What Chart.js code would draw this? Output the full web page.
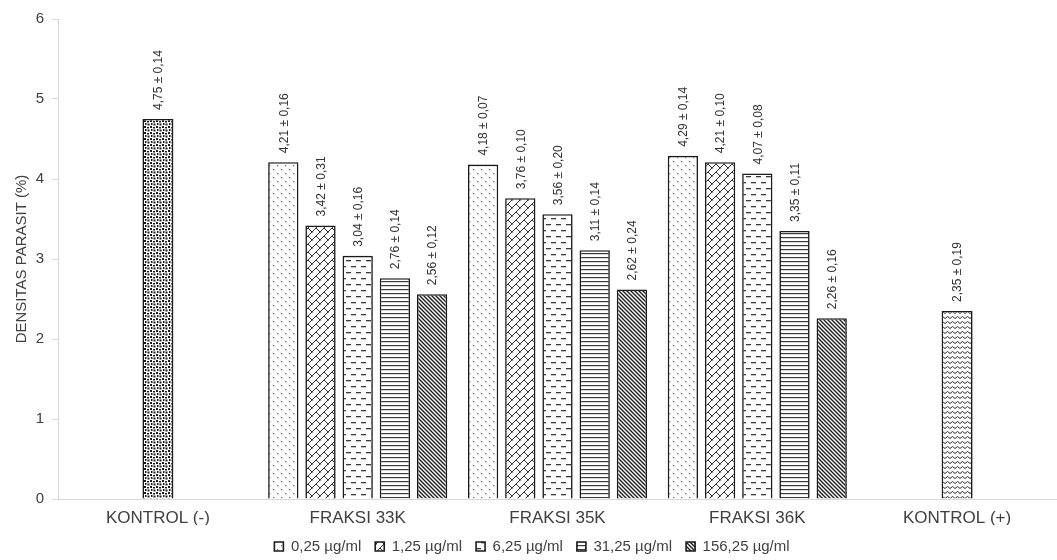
<!DOCTYPE html>
<html>
<head>
<meta charset="utf-8">
<script src="https://cdn.jsdelivr.net/npm/chart.js@4.4.1/dist/chart.umd.min.js"></script>
<style>
  html, body { margin: 0; padding: 0; background: #ffffff; }
  #wrap { width: 1057px; height: 560px; }
</style>
</head>
<body>
<div id="wrap"><canvas id="chart" width="1057" height="560"></canvas></div>
<script>
// Groups along the x axis
const categories = ['KONTROL (-)', 'FRAKSI 33K', 'FRAKSI 35K', 'FRAKSI 36K', 'KONTROL (+)'];

// Concentration series (mean parasite density, %)
const seriesLabels = ['0,25 µg/ml', '1,25 µg/ml', '6,25 µg/ml', '31,25 µg/ml', '156,25 µg/ml'];
const dens025 = [null, 4.21, 4.18, 4.29, null];
const dens125 = [null, 3.42, 3.76, 4.21, null];
const dens625 = [null, 3.04, 3.56, 4.07, null];
const dens3125 = [null, 2.76, 3.11, 3.35, null];
const dens15625 = [null, 2.56, 2.62, 2.26, null];

// Standard deviations for each series
const sd025 = [null, 0.16, 0.07, 0.14, null];
const sd125 = [null, 0.31, 0.10, 0.10, null];
const sd625 = [null, 0.16, 0.20, 0.08, null];
const sd3125 = [null, 0.14, 0.14, 0.11, null];
const sd15625 = [null, 0.12, 0.24, 0.16, null];

// Negative and positive controls
const controlDens = [4.75, null, null, null, 2.35];
const controlSd = [0.14, null, null, null, 0.19];

// Y axis
const yTicks = [0, 1, 2, 3, 4, 5, 6];
const yTitle = 'DENSITAS PARASIT (%)';

const FONT = '"Liberation Sans", Arial, sans-serif';
const TEXT = '#404040';
const AXIS = '#d9d9d9';

// Fill patterns for the bars
function makePattern(w, h, paint) {
  const c = document.createElement('canvas');
  c.width = w; c.height = h;
  const g = c.getContext('2d');
  g.fillStyle = '#ffffff';
  g.fillRect(0, 0, w, h);
  paint(g);
  return g.createPattern(c, 'repeat');
}

const patDots = makePattern(8, 8, g => {
  g.fillStyle = '#6f6f6f';
  g.fillRect(1, 1, 1.3, 1.3);
  g.fillRect(5, 5, 1.3, 1.3);
});

const patWeave = makePattern(8, 8, g => {
  g.strokeStyle = '#2b2b2b';
  g.lineWidth = 1;
  g.beginPath();
  g.moveTo(-1, 9); g.lineTo(9, -1);
  g.moveTo(-1, 1); g.lineTo(1, -1);
  g.moveTo(7, 9); g.lineTo(9, 7);
  g.moveTo(4, 4); g.lineTo(8.5, 8.5);
  g.moveTo(-0.5, -0.5); g.lineTo(0.5, 0.5);
  g.stroke();
});

const patDash = makePattern(10, 12, g => {
  g.fillStyle = '#3a3a3a';
  g.fillRect(1, 2, 5, 1.3);
  g.fillRect(6, 8, 5, 1.3);
  g.fillRect(-4, 8, 5, 1.3);
});

const patHLines = makePattern(4, 4, g => {
  g.fillStyle = '#3a3a3a';
  g.fillRect(0, 1, 4, 1.2);
});

const patDiag = makePattern(4, 4, g => {
  g.strokeStyle = '#1e1e1e';
  g.lineWidth = 1.4;
  g.beginPath();
  g.moveTo(-1, -1); g.lineTo(5, 5);
  g.moveTo(3, -1); g.lineTo(5, 1);
  g.moveTo(-1, 3); g.lineTo(1, 5);
  g.stroke();
});

const patSpeckle = makePattern(6, 6, g => {
  g.fillStyle = '#1c1c1c';
  g.fillRect(0, 0, 2, 2);
  g.fillRect(3, 1, 2, 1.5);
  g.fillRect(1, 3, 1.5, 2);
  g.fillRect(3.5, 3.5, 2, 2);
});

const patWave = makePattern(5, 5, g => {
  g.strokeStyle = '#2e2e2e';
  g.lineWidth = 1;
  g.beginPath();
  g.moveTo(0, 3.5); g.lineTo(2.5, 1.5); g.lineTo(5, 3.5);
  g.stroke();
});

const seriesData = [dens025, dens125, dens625, dens3125, dens15625];
const seriesSd = [sd025, sd125, sd625, sd3125, sd15625];
const seriesFill = [patDots, patWeave, patDash, patHLines, patDiag];

const datasets = seriesLabels.map((label, k) => ({
  label: label,
  data: seriesData[k],
  sd: seriesSd[k],
  backgroundColor: seriesFill[k],
  borderColor: '#1a1a1a',
  borderWidth: 1.6,
  categoryPercentage: 0.931,
  barPercentage: 0.814
}));

datasets.push({
  label: 'KONTROL',
  data: controlDens,
  sd: controlSd,
  backgroundColor: [patSpeckle, null, null, null, patWave],
  borderColor: '#1a1a1a',
  borderWidth: 1.6,
  grouped: false,
  maxBarThickness: 31
});

function fmt(v) {
  return v.toFixed(2).replace('.', ',');
}

// Rotated "mean ± sd" label above every bar
const valueLabels = {
  id: 'valueLabels',
  afterDatasetsDraw(chart) {
    const ctx = chart.ctx;
    ctx.save();
    ctx.font = '12px ' + FONT;
    ctx.fillStyle = '#333333';
    ctx.textAlign = 'left';
    ctx.textBaseline = 'middle';
    chart.data.datasets.forEach((ds, di) => {
      const meta = chart.getDatasetMeta(di);
      meta.data.forEach((bar, i) => {
        const v = ds.data[i];
        if (v === null || v === undefined) return;
        const txt = fmt(v) + ' ± ' + fmt(ds.sd[i]);
        ctx.save();
        ctx.translate(bar.x + 1, bar.y - 9);
        ctx.rotate(-Math.PI / 2);
        ctx.fillText(txt, 0, 0);
        ctx.restore();
      });
    });
    ctx.restore();
  }
};

new Chart(document.getElementById('chart'), {
  type: 'bar',
  data: { labels: categories, datasets: datasets },
  options: {
    responsive: false,
    devicePixelRatio: 1,
    animation: false,
    layout: { padding: { top: 19, right: -7, bottom: 0, left: 0 } },
    plugins: {
      tooltip: { enabled: false },
      legend: {
        position: 'bottom',
        maxHeight: 35,
        labels: {
          boxWidth: 9,
          boxHeight: 9,
          padding: 14,
          color: TEXT,
          font: { family: FONT, size: 15 },
          filter: item => item.datasetIndex < seriesLabels.length
        }
      }
    },
    scales: {
      x: {
        grid: { display: false, drawTicks: false },
        border: { display: true, color: AXIS, width: 1 },
        ticks: { color: TEXT, font: { family: FONT, size: 17 }, padding: 9 },
        afterFit: s => { s.height = 26; }
      },
      y: {
        min: 0,
        max: 6,
        afterBuildTicks: s => { s.ticks = yTicks.map(v => ({ value: v })); },
        grid: { drawOnChartArea: false, drawTicks: true, tickLength: 6, color: AXIS },
        border: { display: true, color: AXIS, width: 1 },
        ticks: { color: TEXT, font: { family: FONT, size: 15 }, padding: 8 },
        title: {
          display: true,
          text: yTitle,
          color: TEXT,
          font: { family: FONT, size: 15 },
          padding: { top: 13, bottom: 0 }
        },
        afterFit: s => { s.width = 58; }
      }
    }
  },
  plugins: [valueLabels]
});
</script>
</body>
</html>
